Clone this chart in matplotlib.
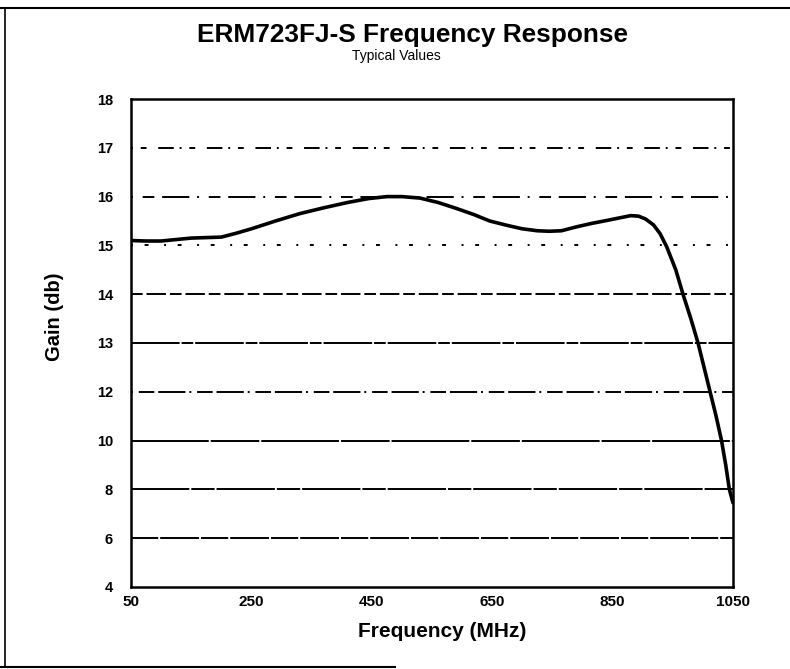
import numpy as np
import matplotlib
matplotlib.use("Agg")
import matplotlib.pyplot as plt
from matplotlib.lines import Line2D

# ---- data ----
title = "ERM723FJ-S Frequency Response"
subtitle = "Typical Values"
x_label = "Frequency (MHz)"
y_label = "Gain (db)"
x_ticks = [50, 250, 450, 650, 850, 1050]
y_ticks = [4, 6, 8, 10, 12, 13, 14, 15, 16, 17, 18]
freq = [50, 75, 100, 125, 150, 175, 200, 225, 250, 290, 330, 370, 410, 445,
        475, 500, 530, 560, 590, 620, 646, 675, 700, 725, 745, 765, 790, 815,
        840, 860, 880, 893, 905, 918, 929, 940, 955, 967, 980, 992, 1002,
        1012, 1022, 1031, 1038, 1044, 1050]
gain = [15.10, 15.09, 15.09, 15.12, 15.15, 15.16, 15.17, 15.25, 15.34, 15.50,
        15.65, 15.77, 15.88, 15.96, 16.00, 16.00, 15.97, 15.88, 15.76, 15.63,
        15.50, 15.41, 15.34, 15.30, 15.29, 15.30, 15.38, 15.45, 15.51, 15.56,
        15.61, 15.60, 15.54, 15.42, 15.24, 14.97, 14.5, 14.0, 13.5, 13.0,
        12.5, 12.0, 11.0, 10.0, 9.0, 8.0, 7.45]

# ---- nonlinear (equally spaced labels) y scale ----
pos = np.arange(len(y_ticks), dtype=float)
def fwd(v):
    return np.interp(v, y_ticks, pos)
def inv(p):
    return np.interp(p, pos, y_ticks)

plt.rcParams['font.family'] = ['Liberation Sans', 'DejaVu Sans']

fig = plt.figure(figsize=(7.9, 6.69), dpi=100)
ax = fig.add_axes([0.1658, 0.1226, 0.762, 0.7294])
ax.set_yscale('function', functions=(fwd, inv))
ax.set_xlim(x_ticks[0], x_ticks[-1])
ax.set_ylim(y_ticks[0], y_ticks[-1])

grid_styles = {
    6: (0, (14, 1, 20, 1)), 8: (0, (30, 1, 12, 1)), 10: (0, (40, 1, 25, 1)),
    12: (0, (1, 3, 8, 2, 14, 2)), 13: (0, (25, 1, 6, 1)), 14: (0, (6, 2, 10, 2)),
    15: (0, (1, 6, 2, 8)), 16: (0, (1, 5, 6, 4, 14, 4)), 17: (0, (1, 4, 3, 6, 8, 3)),
}
for yv in y_ticks[1:-1]:
    ax.axhline(yv, color='black', lw=1.4, ls=grid_styles.get(yv, '-'), zorder=1)

ax.plot(freq, gain, color='black', lw=2.6, solid_capstyle='round',
        solid_joinstyle='round', zorder=3)

ax.set_xticks(x_ticks)
ax.set_xticklabels([str(v) for v in x_ticks], fontweight='bold', fontsize=11)
ax.set_yticks(y_ticks)
ax.set_yticklabels([str(v) for v in y_ticks], fontweight='bold', fontsize=10.5)
ax.yaxis.set_minor_locator(matplotlib.ticker.NullLocator())
ax.tick_params(axis='both', length=0)
ax.tick_params(axis='x', pad=6)
ax.tick_params(axis='y', pad=13)
for s in ax.spines.values():
    s.set_linewidth(1.8)

ax.set_xlabel(x_label, fontweight='bold', fontsize=15)
ax.xaxis.set_label_coords(0.517, -0.072)
ax.set_ylabel(y_label, fontweight='bold', fontsize=14.5)
ax.yaxis.set_label_coords(-0.112, 0.553)

fig.text(0.522, 0.947, title, ha='center', va='center', fontweight='bold', fontsize=18.9)
fig.text(0.502, 0.917, subtitle, ha='center', va='center', fontsize=10,
         family=['Liberation Sans Narrow', 'Liberation Sans'])

# scanned page border
fig.add_artist(Line2D([0.0, 1.0], [0.988, 0.988], color='black', lw=1.5, transform=fig.transFigure))
fig.add_artist(Line2D([0.006, 0.006], [0.988, 0.003], color='black', lw=1.2, transform=fig.transFigure))
fig.add_artist(Line2D([0.0, 0.5], [0.003, 0.003], color='black', lw=1.5, transform=fig.transFigure))

fig.savefig("out.png", dpi=100)
